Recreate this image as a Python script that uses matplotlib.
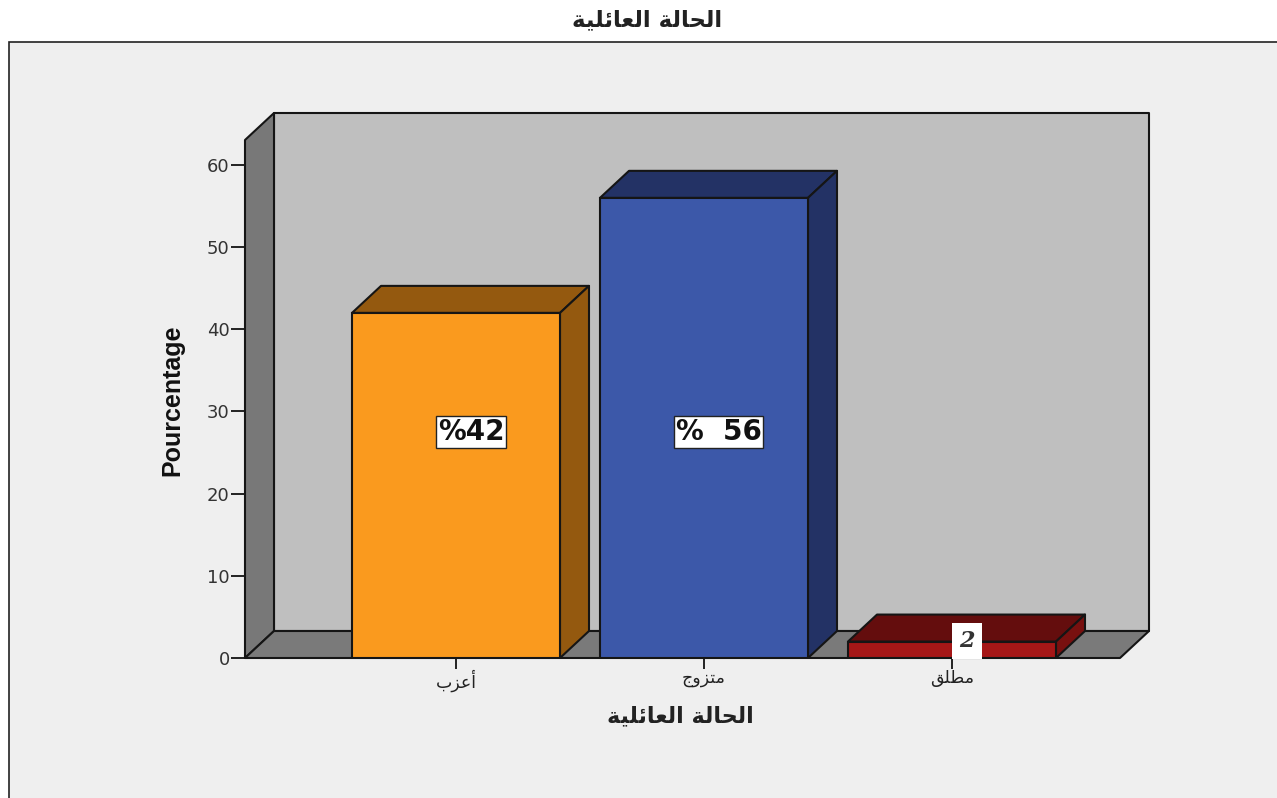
import matplotlib
matplotlib.use("Agg")
import matplotlib.pyplot as plt
from matplotlib.patches import Polygon, Rectangle

W, H = 1277, 798

# arabic written with presentation forms, matplotlib does no shaping. reversed for display
TITLE_AR = "\uFE8D\uFEDF\uFEA4\uFE8E\uFEDF\uFE94 \uFE8D\uFEDF\uFECC\uFE8E\uFE8B\uFEE0\uFEF4\uFE94"[::-1]
categories = [
    "\uFE83\uFECB\uFEB0\uFE8F"[::-1],
    "\uFEE3\uFE98\uFEB0\uFEED\uFE9D"[::-1],
    "\uFEE3\uFEC4\uFEE0\uFED6"[::-1],
]
values = [42, 56, 2]
bar_labels = ["%42", "%  56", "2"]
yticks = [0, 10, 20, 30, 40, 50, 60]

front_colors = ["#FA9A1E", "#3C58A9", "#A51717"]
top_colors = ["#94590F", "#233265", "#640D0D"]
side_colors = ["#94590F", "#233265", "#78100F"]

LINE = "#151515"
DEPTH_X = 29 / 248
DEPTH_Y = 27 / 8.217
BAR_WIDTH = 208 / 248
X_LEFT = 1 + (245 - 704) / 248
X_FRONT_RIGHT = 1 + (1120 - 704) / 248
WALL_TOP = (658 - 140) / 8.217

fig = plt.figure(figsize=(W / 100, H / 100), dpi=100, facecolor="white")
fig.add_artist(Rectangle((9 / W, -0.1), 1.1, 1.1 - 42 / H, transform=fig.transFigure,
                         facecolor="#EFEFEF", edgecolor="#222222", linewidth=1.2, zorder=-1))

ax = fig.add_axes([245 / W, 1 - 658 / H, 904 / W, 546 / H])
ax.patch.set_visible(False)
ax.set_xlim(X_LEFT, X_LEFT + 904 / 248)
ax.set_ylim(0, 546 / 8.217)
for s in ax.spines.values():
    s.set_visible(False)


def poly(points, color, z):
    ax.add_patch(Polygon(points, closed=True, facecolor=color, edgecolor=LINE,
                         linewidth=1.5, zorder=z, clip_on=False, joinstyle="round"))


# back wall, left wall, floor
poly([(X_LEFT + DEPTH_X, DEPTH_Y), (X_FRONT_RIGHT + DEPTH_X, DEPTH_Y),
      (X_FRONT_RIGHT + DEPTH_X, WALL_TOP + DEPTH_Y), (X_LEFT + DEPTH_X, WALL_TOP + DEPTH_Y)], "#BFBFBF", 1)
poly([(X_LEFT, 0), (X_LEFT, WALL_TOP), (X_LEFT + DEPTH_X, WALL_TOP + DEPTH_Y),
      (X_LEFT + DEPTH_X, DEPTH_Y)], "#787878", 2)
poly([(X_LEFT, 0), (X_FRONT_RIGHT, 0), (X_FRONT_RIGHT + DEPTH_X, DEPTH_Y),
      (X_LEFT + DEPTH_X, DEPTH_Y)], "#7A7A7A", 2)

positions = list(range(len(values)))
ax.bar(positions, values, width=BAR_WIDTH, color=front_colors, edgecolor=LINE, linewidth=1.5, zorder=5)
for x, v, top, side in zip(positions, values, top_colors, side_colors):
    l, r = x - BAR_WIDTH / 2, x + BAR_WIDTH / 2
    poly([(l, v), (r, v), (r + DEPTH_X, v + DEPTH_Y), (l + DEPTH_X, v + DEPTH_Y)], top, 4)
    poly([(r, 0), (r, v), (r + DEPTH_X, v + DEPTH_Y), (r + DEPTH_X, DEPTH_Y)], side, 4)

# value labels
for x, label in zip(positions[:2], bar_labels[:2]):
    ax.text(x + 0.06, 27.5, label, ha="center", va="center", fontsize=20, fontweight="bold",
            family="DejaVu Sans", color="#111111", zorder=7,
            bbox=dict(boxstyle="square,pad=0.06", facecolor="white", edgecolor="#222222", linewidth=1))
ax.text(2 + 0.06, 2.1, bar_labels[2], ha="center", va="center", fontsize=16, fontweight="bold",
        family="DejaVu Serif", style="italic", color="#333333", zorder=7,
        bbox=dict(boxstyle="square,pad=0.32", facecolor="white", edgecolor="none"))

ax.set_yticks(yticks)
ax.set_xticks(positions)
ax.set_xticklabels(categories, family="DejaVu Sans", fontsize=12.5, color="#222222")
ax.tick_params(axis="y", length=10, width=1.4, color="#222222", pad=1, labelsize=13,
               labelcolor="#333333", labelfontfamily="DejaVu Sans")
ax.tick_params(axis="x", length=8, width=1.4, color="#222222", pad=0)

ax.set_xlabel(TITLE_AR, x=(680 - 245) / 904, family="DejaVu Sans", fontweight="bold",
              fontsize=16, color="#222222", labelpad=10)
ax.set_ylabel("Pourcentage", y=(658 - 400) / 546, family="Liberation Sans", fontweight="bold",
              fontsize=18, color="#111111", labelpad=16)
fig.text(647 / W, 1 - 20 / H, TITLE_AR, ha="center", va="center", family="DejaVu Sans",
         fontweight="bold", fontsize=16.5, color="#222222")

fig.savefig("out.png", dpi=100)
